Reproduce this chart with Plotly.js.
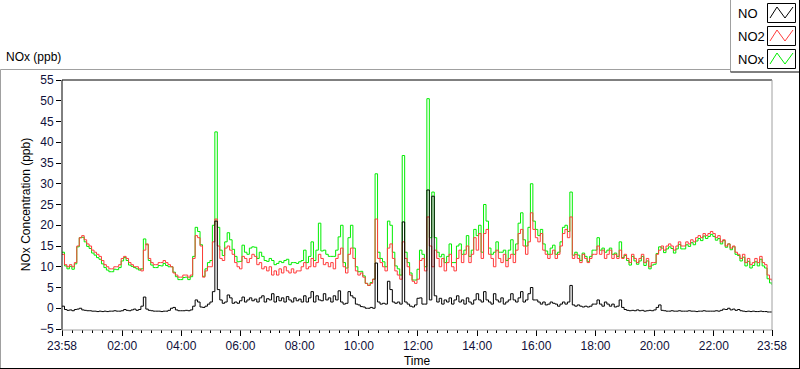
<!DOCTYPE html>
<html><head><meta charset="utf-8">
<script src="https://cdn.plot.ly/plotly-3.0.1.min.js"></script>
<style>html,body{margin:0;padding:0;background:#fff}#chart{width:800px;height:369px}</style>
</head><body><div id="chart"></div>
<script>
// sampling: every 5 minutes from 23:58 to 23:58 next day
const startTimeUTC = Date.UTC(2020, 0, 1, 23, 58, 0);
const stepMinutes = 5;

const no2 = [
13,10.5,10,10.5,10,11,15,17,17.5,16.5,15.5,15,
14,13.5,13,12.5,11.5,10.5,10,9.5,9.5,10,10,10.5,
12,12.5,12,11,10.5,10,10,9.5,9,14,15.5,12,
11,10.5,10.5,11,11,11.5,11,10.5,10,8.5,8,7.5,
7.5,8,8,7.5,8,12,17.5,17,15,7.5,9,10,
10,16,21.5,15,12,11.5,14.5,15,14,13,11,10,
9.5,12.5,12,11,12,13,12.5,10.5,11,9.5,10,9,
10,8,9,8,9.5,8.5,10,9,8.5,9.5,8.5,9,
9,10,11,9.5,10,12,10,11,13,12,10.5,11,
10,11,9.5,12,13,14.5,10,8.5,13,14.5,12,9,
8,8.5,7.5,6,5.5,6,7,21.5,12,11,10,9,
14.5,15.5,12,9,8,7,16,12,10,8,6.5,6,
7,11.5,12,9,22,15,10,14,12,10,12,9,
11,13,10,9,12,14,11,13,15,11,13,17,
14,18,12,18,19,13,12,10,14,12,11,13,
10,12,13,11,14,18,19,15,13,16,23,19,
17,16,18,14,13,12,13,14,12,13,15,18,
19,17,22,12,13,12,11,13,12,11,12,13,
13,15,13,14,12,13,14,12,13,12,14,12,
13,12,11,13,12,11,12,13,11,12,10,11,
11,13,14,15,14,15,15.5,15,14,15,16,15,
15,16,15.5,16.5,16,17,17.5,17,18,17.5,18,18.5,
18,17,17.5,16,16.5,15,15.5,14.5,15,13.5,13,12,
13,11,12,10.5,11,12,11,12.5,11,10.5,8,7,
6.5];

const no = [
0.5,-0.3,-0.5,-0.4,-0.6,-0.3,-0.2,0,-0.4,-0.5,-0.6,-0.6,
-0.7,-0.7,-0.8,-0.7,-0.8,-0.7,-0.8,-0.7,-0.7,-0.6,-0.7,-0.7,
-0.6,-0.3,-0.5,-0.6,-0.4,-0.2,-0.5,-0.3,0.5,2.7,-0.2,-0.5,
-0.6,-0.7,-0.7,-0.7,-0.8,-0.7,-0.7,-0.5,0,0.2,-0.4,-0.6,
-0.6,-0.6,-0.5,-0.6,-0.4,0.5,2,1.5,0.3,0.2,0.5,1,
1.5,4,21,4.5,2,1.2,1.5,3.2,2.5,1.2,1.5,1.2,
1.8,2.7,1.5,2,2.5,1.8,2.2,1.5,2.5,3,1.5,2.3,
2,3.5,1.5,2.8,1.8,2.5,1.5,2.8,2,1.5,2.5,1.8,
2.2,1.5,3,1.5,2.5,4,1.5,3,2,1.8,3.5,2,
2.5,1.5,3,2,4.2,1.5,1,1.2,4,3,2.5,1,
0.8,0.4,0.3,0,0,0.2,0,10.9,1.5,1,1.2,1,
6.5,4.5,1.5,1.2,1.5,1,20.8,1.5,1,0.5,0.3,0.8,
2.4,2.5,1,1,28.5,2,27,3,1.5,2.4,1,2,
1.5,2.5,1,2,3,1.5,2,1,2.5,1.5,1,2,
3.5,2,1.5,4,2,1.5,1,3.5,2,1.5,2.5,1,
1.5,2,3.5,2,1.5,2.5,4,1.5,2,3.5,5,2,
2,1.5,1,1.5,0.8,1,1.5,1.2,1,0.5,1,1.5,
1,1.5,5.5,0.8,0.5,0.8,0.5,0.3,0.5,0.3,0.5,1,
1,2,1,0.5,1.5,1,0.5,1,0.3,0.5,2,0.2,
-0.3,-0.5,-0.6,-0.5,-0.6,-0.4,-0.6,-0.5,-0.7,-0.6,-0.5,-0.6,
-0.4,0.2,0.8,-0.5,-0.6,-0.7,-0.7,-0.6,-0.7,-0.7,-0.6,-0.7,
-0.7,-0.7,-0.6,-0.7,-0.7,-0.8,-0.7,-0.7,-0.6,-0.7,-0.7,-0.7,
-0.7,-0.6,-0.7,-0.5,-0.2,-0.3,0,-0.4,-0.2,-0.5,-0.3,-0.6,
-0.7,-0.8,-0.7,-0.8,-0.7,-0.8,-0.8,-0.7,-0.8,-0.8,-0.9,-0.9,
-0.9];

const nox = [
13.5,10.2,9.5,10.1,9.4,10.7,14.8,17,17.1,16,14.9,14.4,
13.3,12.8,12.2,11.8,10.7,9.8,9.2,8.8,8.8,9.4,9.3,9.8,
11.4,12.2,11.5,10.4,10.1,9.8,9.5,9.2,9.5,16.7,15.3,11.5,
10.4,9.8,9.8,10.3,10.2,10.8,10.3,10,10,8.7,7.6,6.9,
6.9,7.4,7.5,6.9,7.6,12.5,19.5,18.5,15.3,7.7,9.5,11,
11.5,20,42.5,19.5,14,12.7,16,18.2,16.5,14.2,12.5,11.2,
11.3,15.2,13.5,13,14.5,14.8,14.7,12,13.5,12.5,11.5,11.3,
12,11.5,10.5,10.8,11.3,11,11.5,11.8,10.5,11,11,10.8,
11.2,11.5,14,11,12.5,16,11.5,14,20.5,13.8,14,13,
12.5,12.5,12.5,14,17.2,20,11,9.7,17,20,14.5,10,
8.8,8.9,7.8,6,5.5,6.2,7,32.4,13.5,12,11.2,10,
21,20,13.5,10.2,9.5,8,36.8,13.5,11,8.5,6.8,6.8,
9.4,14,13,10,50.5,17,28,17,13.5,12.4,13,11,
12.5,15.5,11,11,15,15.5,13,14,17.5,12.5,14,19,
17.5,20,13.5,25,21,14.5,13,13.5,16,13.5,13.5,14,
11.5,14,16.5,13,15.5,20.5,23,16.5,15,19.5,30,21,
19,17.5,19,15.5,13.8,13,14.5,15.2,13,13.5,16,19.5,
20,18.5,28,12.8,13.5,12.8,11.5,13.3,12.5,11.3,12.5,14,
14,17,14,14.5,13.5,14,14.5,13,13.3,12.5,16,12.2,
12.7,11.5,10.4,12.5,11.4,10.6,11.4,12.5,10.3,11.4,9.5,10.4,
10.6,13.2,14.8,14.5,13.4,14.3,14.8,14.4,13.3,14.3,15.4,14.3,
14.3,15.3,14.9,15.8,15.3,16.2,16.8,16.3,17.4,16.8,17.3,17.8,
17.3,16.4,16.8,15.5,16.3,14.7,15.5,14.1,14.8,13,12.7,11.4,
12.3,10.2,11.3,9.7,10.3,11.2,10.2,11.8,10.2,9.7,7.1,6.1,
5.6];

const tickTimes = ['2020-01-01 23:58','2020-01-02 02:00','2020-01-02 04:00','2020-01-02 06:00',
  '2020-01-02 08:00','2020-01-02 10:00','2020-01-02 12:00','2020-01-02 14:00','2020-01-02 16:00',
  '2020-01-02 18:00','2020-01-02 20:00','2020-01-02 22:00','2020-01-02 23:58'];
const tickLabels = ['23:58','02:00','04:00','06:00','08:00','10:00','12:00','14:00','16:00',
  '18:00','20:00','22:00','23:58'];
const seriesNames = ['NO','NO2','NOx'];
const seriesColors = ['#000000','#ff3c3c','#00ee00'];

function pad(n){return (n<10?'0':'')+n;}
function fmt(ms){const d=new Date(ms);return d.getUTCFullYear()+'-'+pad(d.getUTCMonth()+1)+'-'+pad(d.getUTCDate())+' '+pad(d.getUTCHours())+':'+pad(d.getUTCMinutes())+':00';}
const times = no2.map((_, i) => fmt(startTimeUTC + i*stepMinutes*60000));

const traces = [
  {x: times, y: nox, name: seriesNames[2], mode:'lines', line:{color:seriesColors[2], width:1, shape:'hv'}},
  {x: times, y: no2, name: seriesNames[1], mode:'lines', line:{color:seriesColors[1], width:1, shape:'hv'}},
  {x: times, y: no, name: seriesNames[0], mode:'lines', line:{color:seriesColors[0], width:1, shape:'hv'}}
];

// layout geometry (pixels)
const W=800,H=369,L=62,R=772,T=80,B=329;
function px(x){return (x-L)/(R-L);}
function py(y){return (B-y)/(B-T);}
function line(x0,y0,x1,y1,color){return {type:'line',xref:'paper',yref:'paper',x0:px(x0),y0:py(y0),x1:px(x1),y1:py(y1),line:{color:color,width:1}};}

const shapes = [
  // outer panel
  line(0.5,69.5,730,69.5,'#a0a0a0'),
  line(0.5,69.5,0.5,368.5,'#a0a0a0'),
  line(0,368.5,800,368.5,'#000'),
  line(799.5,72,799.5,368.5,'#000'),
  // plot frame
  line(L,T,R,T,'#000'),
  line(L,T,L,B+1,'#000'),
  line(R,T,R,B+1,'#a0a0a0'),
  line(L,B+1,R,B+1,'#a0a0a0'),
  // legend box
  {type:'rect',xref:'paper',yref:'paper',x0:px(730.5),y0:py(0),x1:px(799.5),y1:py(72),fillcolor:'#fff',line:{width:0},layer:'above'},
  line(730.5,0,730.5,72,'#a0a0a0'),
  line(730.5,72,799.5,72,'#000'),
  line(799.5,0,799.5,72,'#000'),
];
const annotations = [
  {text:'NOx (ppb)',xref:'paper',yref:'paper',x:px(4),y:py(57),xanchor:'left',yanchor:'middle',showarrow:false,font:{family:'Liberation Sans, Arial',size:12,color:'#000'}}
];
const rowY=[13,36,59];
for(let k=0;k<3;k++){
  const cy=rowY[k];
  shapes.push({type:'rect',xref:'paper',yref:'paper',x0:px(767.5),y0:py(cy-9.5),x1:px(795.5),y1:py(cy+9.5),fillcolor:'#fff',line:{color:'#000',width:1},layer:'above'});
  const pts=[[770,cy+5],[777,cy-6],[785,cy+5],[793,cy-6]];
  shapes.push({type:'path',xref:'paper',yref:'paper',path:'M'+pts.map(p=>px(p[0])+','+py(p[1])).join(' L'),line:{color:seriesColors[k],width:1},layer:'above'});
  annotations.push({text:seriesNames[k],xref:'paper',yref:'paper',x:px(736),y:py(cy),xanchor:'left',yanchor:'middle',showarrow:false,font:{family:'Liberation Sans, Arial',size:13,color:'#000'}});
}

const layout = {
  width:W,height:H,
  margin:{l:L,r:W-R,t:T,b:H-B,pad:0},
  paper_bgcolor:'#fff',plot_bgcolor:'#fff',
  showlegend:false,
  font:{family:'Liberation Sans, Arial',size:12,color:'#000'},
  xaxis:{type:'date',range:['2020-01-01 23:58','2020-01-02 23:58'],tickmode:'array',tickvals:tickTimes,ticktext:tickLabels,
    ticks:'outside',ticklen:6,tickwidth:1,tickcolor:'#000',showgrid:false,zeroline:false,showline:false,
    tickfont:{size:12,color:'#10103a'},
    minor:{tickmode:'linear',tick0:'2020-01-02 00:00',dtick:20*60*1000,ticks:'outside',ticklen:3,tickcolor:'#000',showgrid:false},
    title:{text:'Time',standoff:4,font:{size:12,color:'#000'}}},
  yaxis:{range:[-5,55],tickmode:'linear',tick0:0,dtick:5,ticks:'outside',ticklen:5,tickcolor:'#000',
    showgrid:false,zeroline:false,showline:false,tickfont:{size:12,color:'#10103a'},
    title:{text:'NOx Concentration (ppb)',standoff:6,font:{size:12,color:'#000'}}},
  shapes:shapes,annotations:annotations
};
Plotly.newPlot('chart',traces,layout,{displayModeBar:false,staticPlot:true});
</script></body></html>
